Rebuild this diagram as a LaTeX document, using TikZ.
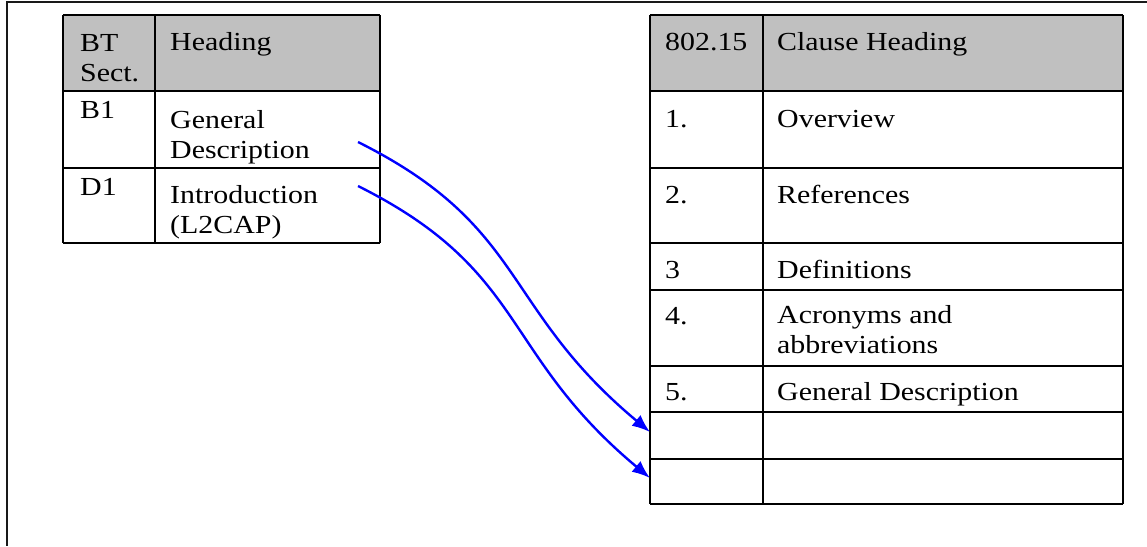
\documentclass[tikz,border=0pt]{standalone}
\usepackage{fontspec}
\setmainfont{Liberation Serif}[FakeStretch=1.15]
\usetikzlibrary{arrows.meta}

\definecolor{headgray}{RGB}{192,192,192}

\begin{document}
\begin{tikzpicture}[x=1pt, y=-1pt]
        \tikzstyle{cell}=[anchor=base west, inner sep=0, align=left, font=\fontsize{26}{30}\selectfont];
        \tikzstyle{grid}=[line width=2.2pt, black];
        \tikzstyle{link}=[line width=2.4pt, blue, -{Latex[length=18pt, width=14pt]}];

        \useasboundingbox (0,0) rectangle (1147,546);

        % outer frame
        \draw[line width=2.4pt, black!90] (1147,2) -- (7,2) -- (7,546);

        % left table
        \fill[headgray] (63,15) rectangle (380,91);
        \foreach \y in {15, 91, 168, 243}{
          \draw[grid] (63,\y) -- (380,\y);
        }
        \foreach \x in {63, 155, 380}{
          \draw[grid] (\x,15) -- (\x,243);
        }
        % two-line cells sit on the baseline of their last line
        \node[cell] (bt) at (80,81) {BT\\Sect.};
        \node[cell] (head) at (170,50) {Heading};
        \node[cell] (b1) at (80,118) {B1};
        \node[cell] (gendesc) at (170,158) {General\\Description};
        \node[cell] (d1) at (80,195) {D1};
        \node[cell] (intro) at (170,233) {Introduction\\(L2CAP)};

        % right table
        \fill[headgray] (650,15) rectangle (1123,91);
        \foreach \y in {15, 91, 168, 243, 290, 366, 412, 459, 504}{
          \draw[grid] (650,\y) -- (1123,\y);
        }
        \foreach \x in {650, 763, 1123}{
          \draw[grid] (\x,15) -- (\x,504);
        }
        \node[cell] (ieee) at (665,50) {802.15};
        \node[cell] (clause) at (777,50) {Clause Heading};
        \node[cell] (n1) at (665,127) {1.};
        \node[cell] (overview) at (777,127) {Overview};
        \node[cell] (n2) at (665,203) {2.};
        \node[cell] (refs) at (777,203) {References};
        \node[cell] (n3) at (665,278) {3};
        \node[cell] (defs) at (777,278) {Definitions};
        \node[cell] (n4) at (665,324) {4.};
        \node[cell] (acro) at (777,353) {Acronyms and\\abbreviations};
        \node[cell] (n5) at (665,400) {5.};
        \node[cell] (gendesc2) at (777,400) {General Description};

        % mapping arrows
        \coordinate (gdout) at (358,142);
        \coordinate (introout) at (358,186);
        \coordinate (row6) at (650,432);
        \coordinate (row7) at (650,478);
        \draw[link] (gdout) .. controls +(170,85) and +(-150,-125) .. (row6);
        \draw[link] (introout) .. controls +(170,85) and +(-150,-125) .. (row7);
    \end{tikzpicture}
\end{document}
